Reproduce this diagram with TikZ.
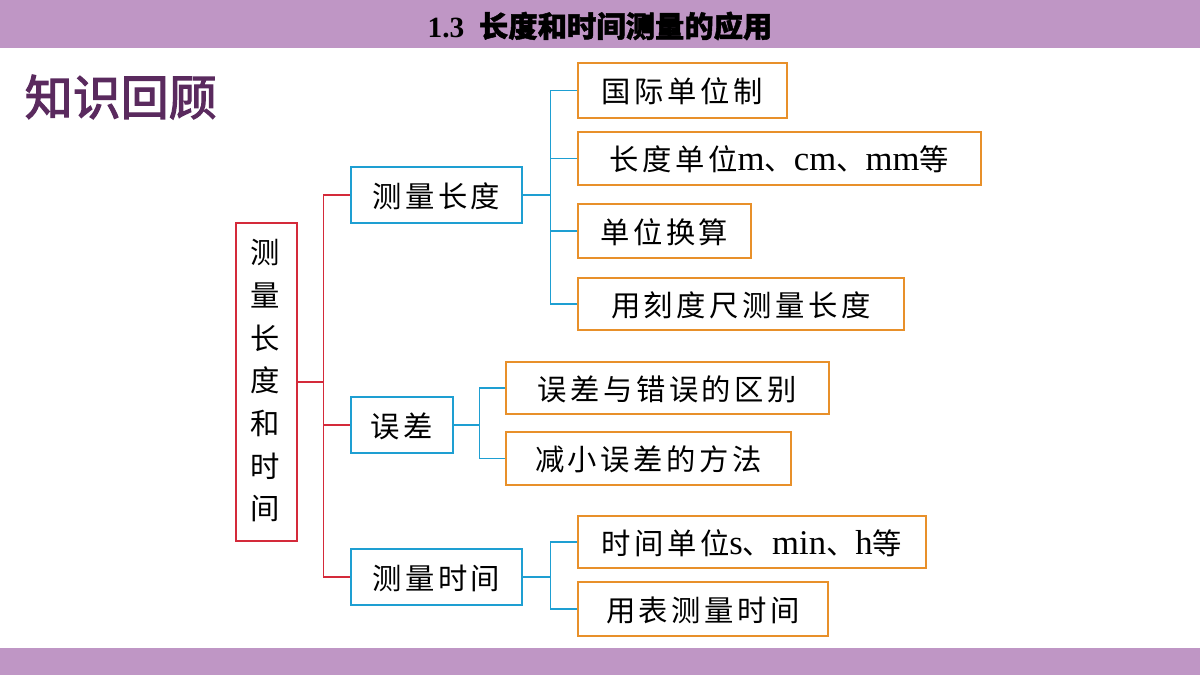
\documentclass[tikz,border=0pt]{standalone}
\usepackage{fontspec}
\setmainfont{Liberation Serif}
\newfontfamily\cjk[LetterSpace=12]{Noto Sans CJK SC}
\newfontfamily\cjkb[FakeBold=2.5]{Noto Sans CJK SC}
\newfontfamily\cjkt[FakeBold=1.5]{Noto Sans CJK SC}
\definecolor{barp}{HTML}{BF96C5}
\definecolor{bl}{HTML}{1E9FD2}
\definecolor{rd}{HTML}{D42A3A}
\definecolor{og}{HTML}{E8902A}
\definecolor{dp}{HTML}{5A2A5E}
\begin{document}
\begin{tikzpicture}[x=0.75pt,y=-0.75pt,
  bx/.style={draw=#1,line width=1.2pt,anchor=north west,inner sep=0pt,align=left,text depth=0pt},
  lf/.style={bx=og,font=\cjk\fontsize{22}{26}\selectfont},
  mid/.style={bx=bl,font=\cjk\fontsize{22}{26}\selectfont},
  cr/.style={draw=rd,line width=1.1pt},
  cb/.style={draw=bl,line width=1.1pt}]
\useasboundingbox (0,0) rectangle (1200,675);
\fill[white] (0,0) rectangle (1200,675);
\fill[barp] (0,0) rectangle (1200,48);
\fill[barp] (0,648) rectangle (1200,675);
\node (title) at (600,26) {\fontsize{22}{26}\selectfont\bfseries 1.3\ \ {\cjkt 长度和时间测量的应用}};
\node[anchor=west,text=dp,font=\cjkb\fontsize{36}{40}\selectfont] (kr) at (20,97) {知识回顾};
% root
\node[bx=rd,minimum width=61*0.75pt,minimum height=318*0.75pt] (root) at (235,222) {};
\node[font=\cjk\fontsize{22}{26}\selectfont,align=center] (rt) at (265.5,381) {\cjk 测\\[6pt]量\\[6pt]长\\[6pt]度\\[6pt]和\\[6pt]时\\[6pt]间};
% mid boxes
\node[mid,minimum width=171*0.75pt,minimum height=56*0.75pt] (m1) at (350,166) {测量长度};
\node[mid,minimum width=102*0.75pt,minimum height=56*0.75pt] (m2) at (350,396) {误差};
\node[mid,minimum width=171*0.75pt,minimum height=56*0.75pt] (m3) at (350,548) {测量时间};
% leaves
\node[lf,minimum width=209*0.75pt,minimum height=55*0.75pt] (l1) at (577,62) {国际单位制};
\node[lf,minimum width=403*0.75pt,minimum height=53*0.75pt] (l2) at (577,131) {长度单位{\fontspec{Liberation Serif}\fontsize{26}{28}\selectfont m}、{\fontspec{Liberation Serif}\fontsize{26}{28}\selectfont cm}、{\fontspec{Liberation Serif}\fontsize{26}{28}\selectfont mm}等};
\node[lf,minimum width=173*0.75pt,minimum height=54*0.75pt] (l3) at (577,203) {单位换算};
\node[lf,minimum width=326*0.75pt,minimum height=52*0.75pt] (l4) at (577,277) {用刻度尺测量长度};
\node[lf,minimum width=323*0.75pt,minimum height=52*0.75pt] (l5) at (505,361) {误差与错误的区别};
\node[lf,minimum width=285*0.75pt,minimum height=53*0.75pt] (l6) at (505,431) {减小误差的方法};
\node[lf,minimum width=348*0.75pt,minimum height=52*0.75pt] (l7) at (577,515) {时间单位{\fontspec{Liberation Serif}\fontsize{26}{28}\selectfont s}、{\fontspec{Liberation Serif}\fontsize{26}{28}\selectfont min}、{\fontspec{Liberation Serif}\fontsize{26}{28}\selectfont h}等};
\node[lf,minimum width=250*0.75pt,minimum height=54*0.75pt] (l8) at (577,581) {用表测量时间};
% red connectors
\path (root.east) ++(26,0) coordinate (rj);
\draw[cr] (root.east) -- (rj);
\draw[cr] (m1.west) -| (rj) |- (m3.west);
\draw[cr] (rj |- m2.west) -- (m2.west);
% blue connectors
\path (m1.east) ++(28,0) coordinate (j1);
\draw[cb] (m1.east) -- (j1);
\foreach \l in {l1,l2,l3,l4} \draw[cb] (j1) |- (\l.west);
\path (m2.east) ++(26,0) coordinate (j2);
\draw[cb] (m2.east) -- (j2);
\foreach \l in {l5,l6} \draw[cb] (j2) |- (\l.west);
\path (m3.east) ++(28,0) coordinate (j3);
\draw[cb] (m3.east) -- (j3);
\foreach \l in {l7,l8} \draw[cb] (j3) |- (\l.west);
\end{tikzpicture}
\end{document}
